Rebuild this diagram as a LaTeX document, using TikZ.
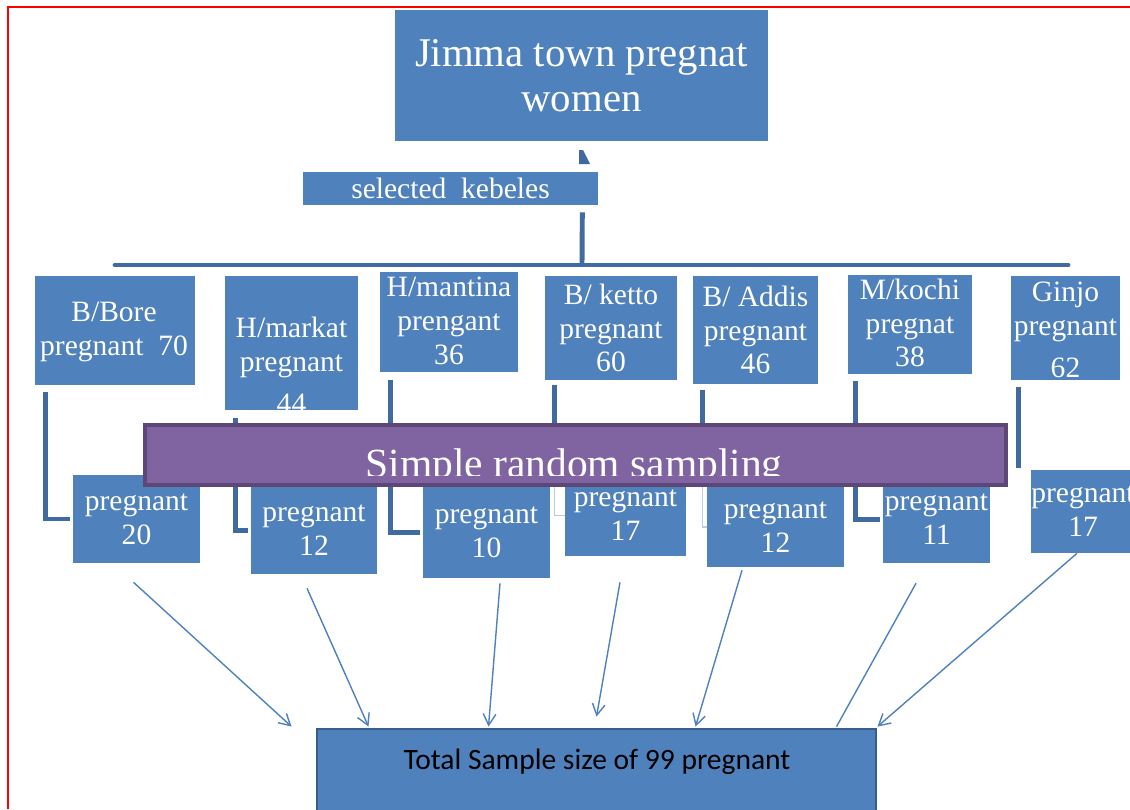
\documentclass[tikz,border=0pt]{standalone}
\usepackage{fontspec}
\setmainfont{Liberation Serif}
\newfontfamily\calibrifont{Carlito}
\usetikzlibrary{arrows.meta,calc}

\definecolor{boxblue}{RGB}{79,129,189}
\definecolor{linkblue}{RGB}{65,106,160}
\definecolor{srspurple}{RGB}{128,100,162}
\definecolor{srsborder}{RGB}{92,71,118}
\definecolor{totborder}{RGB}{56,93,138}

\pgfdeclarelayer{behind}
\pgfsetlayers{behind,main}

\tikzset{
  kebele/.style={fill=boxblue, inner sep=0pt},
  ktext/.style={text=white, align=center, inner sep=0pt, font=\fontsize{21}{24}\selectfont},
  elbow/.style={draw=linkblue, line width=3.5pt},
  faint/.style={draw=linkblue!35, line width=1pt},
  arr/.style={draw=boxblue, line width=1pt, -{Straight Barb[length=8pt,width=9pt]}},
}

\begin{document}
\begin{tikzpicture}[x=0.025cm, y=-0.025cm]
\useasboundingbox (0,0) rectangle (1130,809);
\draw[red, line width=1.5pt] (8,809) -- (8,7) -- (1130,7);

% top of the tree
\node[kebele, ktext, minimum width=9.325cm, minimum height=3.275cm, font=\fontsize{29}{32}\selectfont] (jimma) at (581.5,75.5) {Jimma town pregnat\\women};
\fill[linkblue] (579,150) -- (583,150) -- (590,164) -- (579,164) -- cycle;
\node[kebele, ktext, minimum width=7.375cm, minimum height=0.825cm] (sel) at (450.5,188.5) {selected\ \ kebeles};

\coordinate (bus) at (582,265);
\draw[elbow] ($(sel.south east)+(-16,7)$) -- (bus);
\draw[elbow, line cap=round] (115,265) -- (1068,265);

% kebeles
\node[kebele, minimum width=4cm, minimum height=2.725cm] (bore) at (115,330.5) {};
\node[ktext] (bore-t) at (114,332) {B/Bore\\pregnant\ \ 70};
\node[kebele, minimum width=3.325cm, minimum height=3.35cm] (markat) at (291.5,343) {};
\node[ktext] (markat-t) at (291.5,365) {H/markat\\pregnant\\[6pt]44};
\node[kebele, minimum width=3.45cm, minimum height=2.5cm] (mantina) at (449,322) {};
\node[ktext] (mantina-t) at (449,321) {H/mantina\\prengant\\36};
\node[kebele, minimum width=3.3cm, minimum height=2.6cm] (ketto) at (611,328) {};
\node[ktext] (ketto-t) at (611,328) {B/ ketto\\pregnant\\60};
\node[kebele, minimum width=3.125cm, minimum height=2.7cm] (addis) at (755.5,330) {};
\node[ktext] (addis-t) at (755.5,330) {B/ Addis\\pregnant\\46};
\node[kebele, minimum width=3.1cm, minimum height=2.475cm] (kochi) at (910,324.5) {};
\node[ktext] (kochi-t) at (910,323) {M/kochi\\pregnat\\38};
\node[kebele, minimum width=2.725cm, minimum height=2.6cm] (ginjo) at (1065.5,328) {};
\node[ktext] (ginjo-t) at (1065.5,330) {Ginjo\\pregnant\\[6pt]62};

% samples
\node[kebele, ktext, minimum width=3.175cm, minimum height=2.2cm] (s1) at (136.5,519) {pregnant\\20};
\node[kebele, ktext, minimum width=3.15cm, minimum height=2.175cm] (s2) at (314,530.5) {pregnant\\12};
\node[kebele, ktext, minimum width=3.175cm, minimum height=2.275cm] (s3) at (486.5,532.5) {pregnant\\10};
\node[kebele, ktext, minimum width=3.025cm, minimum height=2.025cm] (s4) at (625.5,515.5) {pregnant\\17};
\node[kebele, ktext, minimum width=3.425cm, minimum height=2cm] (s5) at (775.5,527) {pregnant\\12};
\node[kebele, ktext, minimum width=2.675cm, minimum height=2.175cm] (s6) at (936.5,519.5) {pregnant\\11};
\node[kebele, ktext, minimum width=2.6cm, minimum height=2.075cm] (s7) at (1083,511.5) {pregnant\\17};

\node[fill=srspurple, draw=srsborder, line width=3pt, inner sep=0pt, minimum width=21.525cm, minimum height=1.5cm] (srs) at (575.5,455) {};
\begin{scope}
\clip ($(srs.north west)+(3,3)$) rectangle ($(srs.south east)+(-3,-12)$);
\node[text=white, inner sep=0pt, font=\fontsize{29.5}{32}\selectfont] (srs-t) at (574,468) {Simple random sampling};
\end{scope}

\begin{pgfonlayer}{behind}
\draw[elbow] ($(bore.south west)+(11,7)$) |- ([xshift=-2pt]s1.west);
\draw[elbow] ($(markat.south west)+(11,8)$) |- ([xshift=-2pt]s2.west);
\draw[elbow] ($(mantina.south west)+(11,8)$) |- ([xshift=-2pt]s3.west);
\draw[elbow] ($(ketto.south west)+(10,5)$) coordinate (k4) -- (k4 |- srs.north);
\draw[faint] (k4 |- srs.south) |- (s4.west);
\draw[elbow] ($(addis.south west)+(10,6)$) coordinate (k5) -- (k5 |- srs.north);
\draw[faint] (k5 |- srs.south) |- (s5.west);
\draw[elbow] ($(kochi.south west)+(8,7)$) |- ([xshift=-2pt]s6.west);
\draw[elbow] ($(ginjo.south west)+(8,7)$) coordinate (k7) -- ($(k7 |- s7.north)+(0,-2)$);
\end{pgfonlayer}

% total
\node[kebele, draw=totborder, line width=2pt, minimum width=13.975cm, minimum height=2.5cm] (total) at (596.5,779) {};
\node[inner sep=0pt, font=\calibrifont\fontsize{21}{24}\selectfont] (total-t) at (597,762) {Total Sample size of 99 pregnant};

\draw[arr] ($(s1.south)+(-3,19)$) -- ($(total.north west)+(-24,-1)$);
\draw[arr] ($(s2.south)+(-7,14)$) -- ($(total.north west)+(53,-1)$);
\draw[arr] ($(s3.south)+(13.5,5)$) -- ($(total.north west)+(173,-1)$);
\draw[arr] ($(s4.south)+(-5.5,26)$) -- ($(total.north west)+(281,-11)$);
\draw[arr] ($(s5.south)+(-33.5,3)$) -- ($(total.north west)+(380,-1)$);
\draw[draw=boxblue, line width=1pt] ($(s6.south)+(-20.5,20)$) -- ($(total.north west)+(521,-1)$);
\draw[arr] ($(s7.south)+(-6,0)$) -- ($(total.north east)+(0,-1)$);
\end{tikzpicture}
\end{document}
